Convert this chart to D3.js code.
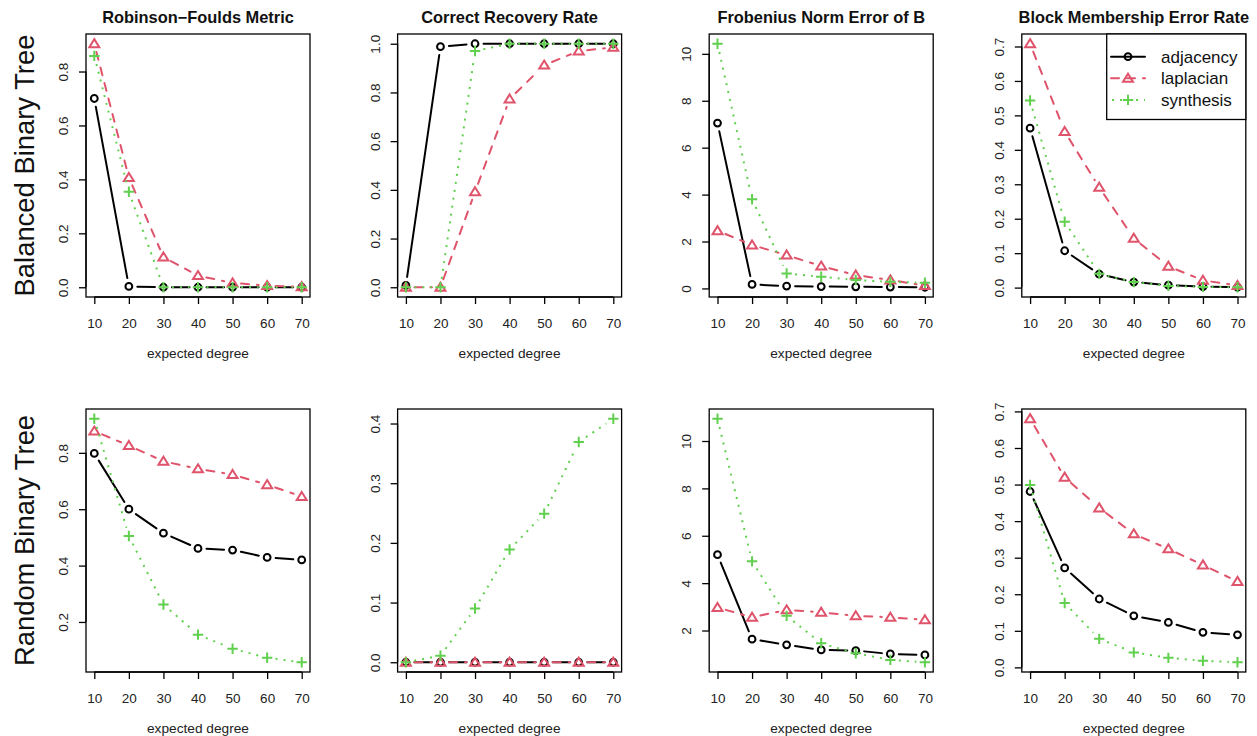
<!DOCTYPE html>
<html>
<head>
<meta charset="utf-8">
<script src="https://cdn.jsdelivr.net/npm/d3@7"></script>
<style>
  html, body { margin: 0; padding: 0; background: #fff; }
  svg { display: block; font-family: "Liberation Sans", Arial, Helvetica, sans-serif; }
</style>
</head>
<body>
<svg id="chart" width="1257" height="736"></svg>
<script>
// ---------- data ----------
const degrees = [10, 20, 30, 40, 50, 60, 70];
const seriesNames = ["adjacency", "laplacian", "synthesis"];
const panelTitles = ["Robinson\u2212Foulds Metric", "Correct Recovery Rate", "Frobenius Norm Error of B", "Block Membership Error Rate"];
const rowLabels = ["Balanced Binary Tree", "Random Binary Tree"];
const xLabel = "expected degree";

// Balanced binary tree
const rfBalAdj = [0.700, 0.003, 0, 0, 0, 0, 0];
const rfBalLap = [0.903, 0.407, 0.112, 0.043, 0.016, 0.006, 0.002];
const rfBalSyn = [0.858, 0.354, 0, 0, 0, 0, 0];

const crBalAdj = [0.008, 0.988, 1, 1, 1, 1, 1];
const crBalLap = [0, 0, 0.392, 0.773, 0.912, 0.970, 0.985];
const crBalSyn = [0, 0, 0.970, 1, 1, 1, 1];

const fnBalAdj = [7.05, 0.17, 0.10, 0.08, 0.07, 0.06, 0.05];
const fnBalLap = [2.46, 1.85, 1.42, 0.95, 0.57, 0.36, 0.12];
const fnBalSyn = [10.43, 3.80, 0.64, 0.50, 0.36, 0.28, 0.24];

const bmBalAdj = [0.463, 0.107, 0.039, 0.016, 0.007, 0.003, 0.001];
const bmBalLap = [0.708, 0.453, 0.291, 0.143, 0.062, 0.021, 0.006];
const bmBalSyn = [0.543, 0.191, 0.040, 0.016, 0.005, 0.002, 0.001];

// Random binary tree
const rfRanAdj = [0.798, 0.600, 0.515, 0.461, 0.455, 0.429, 0.420];
const rfRanLap = [0.877, 0.826, 0.770, 0.743, 0.723, 0.687, 0.645];
const rfRanSyn = [0.921, 0.505, 0.262, 0.155, 0.105, 0.073, 0.057];

const crRanAdj = [0, 0, 0, 0, 0, 0, 0];
const crRanLap = [0, 0, 0, 0, 0, 0, 0];
const crRanSyn = [0, 0.011, 0.090, 0.189, 0.249, 0.369, 0.408];

const fnRanAdj = [5.20, 1.635, 1.395, 1.18, 1.155, 1.01, 0.97];
const fnRanLap = [2.97, 2.56, 2.87, 2.77, 2.62, 2.56, 2.45];
const fnRanSyn = [10.94, 4.92, 2.62, 1.46, 1.04, 0.76, 0.66];

const bmRanAdj = [0.481, 0.272, 0.187, 0.141, 0.123, 0.096, 0.089];
const bmRanLap = [0.680, 0.520, 0.436, 0.365, 0.324, 0.280, 0.235];
const bmRanSyn = [0.499, 0.176, 0.078, 0.041, 0.026, 0.018, 0.014];

// y tick labels per panel
const yTicksBal = [[0.0, 0.2, 0.4, 0.6, 0.8], [0.0, 0.2, 0.4, 0.6, 0.8, 1.0], [0, 2, 4, 6, 8, 10], [0.0, 0.1, 0.2, 0.3, 0.4, 0.5, 0.6, 0.7]];
const yTicksRan = [[0.2, 0.4, 0.6, 0.8], [0.0, 0.1, 0.2, 0.3, 0.4], [2, 4, 6, 8, 10], [0.0, 0.1, 0.2, 0.3, 0.4, 0.5, 0.6, 0.7]];

const panels = [
  [[rfBalAdj, rfBalLap, rfBalSyn], [crBalAdj, crBalLap, crBalSyn], [fnBalAdj, fnBalLap, fnBalSyn], [bmBalAdj, bmBalLap, bmBalSyn]],
  [[rfRanAdj, rfRanLap, rfRanSyn], [crRanAdj, crRanLap, crRanSyn], [fnRanAdj, fnRanLap, fnRanSyn], [bmRanAdj, bmRanLap, bmRanSyn]]
];
const yTicks = [yTicksBal, yTicksRan];

// ---------- styling ----------
const colors = ["#000000", "#DF536B", "#61D04F"];
const dashes = [null, "8,8", "2,6"];
const caps = ["round", "round", "butt"];

const svg = d3.select("#chart");
const boxW = 224, boxH = 263;
const colX = [86, 397.6, 709.2, 1021.8];
const rowY = [34, 409];
const gap = 8.5;

function drawMarker(g, type, x, y, color) {
  if (type === 0) {
    g.append("circle").attr("cx", x).attr("cy", y).attr("r", 3.4)
      .attr("fill", "none").attr("stroke", color).attr("stroke-width", 2);
  } else if (type === 1) {
    const s = 4.6;
    g.append("path")
      .attr("d", `M${x},${y - s}L${x + s * 1.08},${y + s * 0.75}L${x - s * 1.08},${y + s * 0.75}Z`)
      .attr("fill", "none").attr("stroke", color).attr("stroke-width", 2).attr("stroke-linejoin", "miter");
  } else {
    const s = 5.2;
    g.append("path")
      .attr("d", `M${x - s},${y}H${x + s}M${x},${y - s}V${y + s}`)
      .attr("fill", "none").attr("stroke", color).attr("stroke-width", 2);
  }
}

function fmt(ticks) {
  const step = ticks[1] - ticks[0];
  return step < 1 ? d3.format(".1f") : d3.format("d");
}

for (let r = 0; r < 2; r++) {
  for (let c = 0; c < 4; c++) {
    const x0 = colX[c], y0 = rowY[r];
    const data = panels[r][c];
    const all = data.flat();
    const lo = d3.min(all), hi = d3.max(all);
    const ext = (hi - lo) * 0.04;
    const x = d3.scaleLinear().domain([10 - 60 * 0.04, 70 + 60 * 0.04]).range([x0, x0 + boxW]);
    const y = d3.scaleLinear().domain([lo - ext, hi + ext]).range([y0 + boxH, y0]);
    const g = svg.append("g");

    // series
    data.forEach((vals, si) => {
      const pts = vals.map((v, i) => [x(degrees[i]), y(v)]);
      const lg = g.append("g");
      for (let i = 0; i < pts.length - 1; i++) {
        const [ax, ay] = pts[i], [bx, by] = pts[i + 1];
        const dx = bx - ax, dy = by - ay, L = Math.hypot(dx, dy);
        if (L <= 2 * gap) continue;
        const ux = dx / L, uy = dy / L;
        const line = lg.append("line")
          .attr("x1", ax + ux * gap).attr("y1", ay + uy * gap)
          .attr("x2", bx - ux * gap).attr("y2", by - uy * gap)
          .attr("stroke", colors[si]).attr("stroke-width", 2)
          .attr("stroke-linecap", caps[si]);
        if (dashes[si]) line.attr("stroke-dasharray", dashes[si]);
      }
      pts.forEach(p => drawMarker(lg, si, p[0], p[1], colors[si]));
    });

    // box
    g.append("rect").attr("x", x0).attr("y", y0).attr("width", boxW).attr("height", boxH)
      .attr("fill", "none").attr("stroke", "#000").attr("stroke-width", 1.3);

    // x axis
    const xa = g.append("g").attr("transform", `translate(0,${y0 + boxH})`)
      .call(d3.axisBottom(x).tickValues(degrees).tickSize(7).tickPadding(0).tickFormat(d3.format("d")));
    xa.select(".domain").attr("d", `M${x(10)},0H${x(70)}`).attr("stroke-width", 1.3);
    xa.selectAll(".tick line").attr("stroke-width", 1.3);
    xa.selectAll(".tick text").attr("y", 31).attr("dy", null)
      .attr("font-size", 13.5).attr("font-family", "Liberation Sans, Arial, sans-serif").attr("fill", "#222");

    // y axis
    const tv = yTicks[r][c];
    const f = fmt(tv);
    const ya = g.append("g").attr("transform", `translate(${x0},0)`)
      .call(d3.axisLeft(y).tickValues(tv).tickSize(7).tickFormat(f));
    ya.select(".domain").attr("d", `M0,${y(tv[0])}V${y(tv[tv.length - 1])}`).attr("stroke-width", 1.3);
    ya.selectAll(".tick line").attr("stroke-width", 1.3);
    ya.selectAll(".tick text")
      .attr("x", null).attr("dy", null)
      .attr("transform", "translate(-18,0) rotate(-90)")
      .attr("text-anchor", "middle")
      .attr("font-size", 13.5).attr("font-family", "Liberation Sans, Arial, sans-serif").attr("fill", "#222");

    // x label
    g.append("text").attr("x", x0 + boxW / 2).attr("y", y0 + boxH + 61)
      .attr("text-anchor", "middle").attr("font-size", 13.7).attr("fill", "#222").text(xLabel);

    // title
    if (r === 0) {
      g.append("text").attr("x", x0 + boxW / 2).attr("y", 23)
        .attr("text-anchor", "middle").attr("font-size", 16.4).attr("font-weight", "bold")
        .attr("fill", "#111").text(panelTitles[c]);
    }

    // row label
    if (c === 0) {
      g.append("text")
        .attr("transform", `translate(33.5,${y0 + boxH / 2}) rotate(-90)`)
        .attr("text-anchor", "middle").attr("font-size", 27.4).attr("fill", "#111")
        .text(rowLabels[r]);
    }

    // legend
    if (r === 0 && c === 3) {
      const lx = 1106.7, ly = y0, lw = x0 + boxW - lx, lh = 85.5;
      const lgd = g.append("g");
      lgd.append("rect").attr("x", lx).attr("y", ly).attr("width", lw).attr("height", lh)
        .attr("fill", "#fff").attr("stroke", "#000").attr("stroke-width", 1.3);
      seriesNames.forEach((name, si) => {
        const yy = 56.7 + si * 21.6;
        const l = lgd.append("line").attr("x1", 1111).attr("x2", 1145).attr("y1", yy).attr("y2", yy)
          .attr("stroke", colors[si]).attr("stroke-width", 2).attr("stroke-linecap", caps[si]);
        if (dashes[si]) l.attr("stroke-dasharray", si === 1 ? "8,8" : "2,6").attr("stroke-dashoffset", si === 1 ? 0 : -1);
        // white behind marker not needed for legend (R draws line through); draw marker
        drawMarker(lgd, si, 1128, yy, colors[si]);
        lgd.append("text").attr("x", 1161).attr("y", yy + 6).attr("font-size", 17)
          .attr("fill", "#111").text(name);
      });
    }
  }
}
</script>
</body>
</html>
